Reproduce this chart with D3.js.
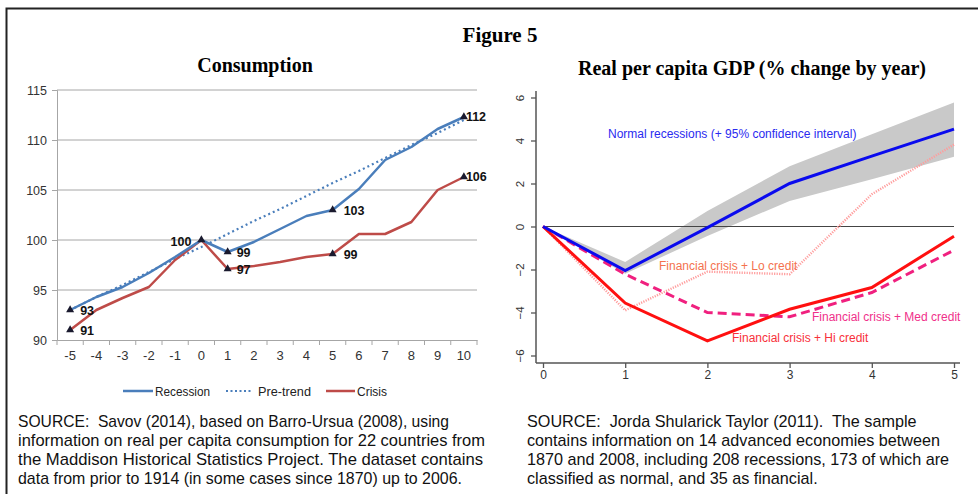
<!DOCTYPE html>
<html><head><meta charset="utf-8">
<script src="https://cdn.jsdelivr.net/npm/d3@7"></script>
<style>
body{margin:0;background:#fff;}
svg{display:block;}
text{white-space:pre;}
</style></head>
<body>
<svg id="c" width="978" height="494"></svg>
<script>
// ---------- DATA ----------
const figureTitle = "Figure 5";
const leftTitle = "Consumption";
const rightTitle = "Real per capita GDP (% change by year)";

const years = [-5,-4,-3,-2,-1,0,1,2,3,4,5,6,7,8,9,10];
const recession = [93,94.3,95.3,96.7,98.3,100,98.8,99.8,101.1,102.4,103,105.1,108,109.3,111.1,112.3];
const preTrend  = [93,94.3,95.5,96.8,98.1,99.3,100.6,101.9,103.1,104.4,105.7,106.9,108.2,109.5,110.7,112];
const crisis    = [91,93.0,94.2,95.3,98.0,100,97.1,97.4,97.8,98.3,98.6,100.6,100.6,101.8,105.0,106.3];
const leftYTicks = [90,95,100,105,110,115];
const legendNames = ["Recession","Pre-trend","Crisis"];
// labelled points: [series, year index, label]
const pointLabels = [
  ["recession",0,"93"],["crisis",0,"91"],["recession",5,"100"],
  ["recession",6,"99"],["crisis",6,"97"],["recession",10,"103"],
  ["crisis",10,"99"],["recession",15,"112"],["crisis",15,"106"]
];

const horizon = [0,1,2,3,4,5];
const normalRec = [0,-2.05,-0.05,2.0,3.27,4.53];
const ciUpper   = [0,-1.65,0.72,2.8,4.29,5.77];
const ciLower   = [0,-2.2,-0.44,1.19,2.2,3.24];
const loCredit  = [0,-3.9,-2.1,-2.22,1.5,3.81];
const medCredit = [0,-2.22,-4.0,-4.2,-3.07,-1.1];
const hiCredit  = [0,-3.56,-5.32,-3.85,-2.84,-0.45];
const rightYTicks = [-6,-4,-2,0,2,4,6];
const rightXTicks = [0,1,2,3,4,5];
const annNormal = "Normal recessions (+ 95% confidence interval)";
const annLo = "Financial crisis + Lo credit";
const annMed = "Financial crisis + Med credit";
const annHi = "Financial crisis + Hi credit";

const sourceLeft = [
 "SOURCE:  Savov (2014), based on Barro-Ursua (2008), using",
 "information on real per capita consumption for 22 countries from",
 "the Maddison Historical Statistics Project. The dataset contains",
 "data from prior to 1914 (in some cases since 1870) up to 2006."
];
const sourceRight = [
 "SOURCE:  Jorda Shularick Taylor (2011).  The sample",
 "contains information on 14 advanced economies between",
 "1870 and 2008, including 208 recessions, 173 of which are",
 "classified as normal, and 35 as financial."
];

// ---------- DRAW ----------
const svg = d3.select("#c");
const serif = "'Liberation Serif','Times New Roman',serif";
const sans = "'Liberation Sans',Arial,Helvetica,sans-serif";
const narrow = "'Liberation Sans Narrow','Arial Narrow','Liberation Sans',sans-serif";

// frame
svg.append("rect").attr("x",6.5).attr("y",8.5).attr("width",1100).attr("height",600)
  .attr("fill","none").attr("stroke","#222").attr("stroke-width",2);

svg.append("text").attr("x",500).attr("y",42).attr("text-anchor","middle")
  .attr("font-family",serif).attr("font-weight","bold").attr("font-size",21).text(figureTitle);

// ===== LEFT CHART =====
const L = svg.append("g");
L.append("text").attr("x",255).attr("y",72).attr("text-anchor","middle")
  .attr("font-family",serif).attr("font-weight","bold").attr("font-size",20).text(leftTitle);

const xL = d3.scaleBand().domain(years).range([57,477]);
const yL = d3.scaleLinear().domain([90,115]).range([340,90]);
const cx = i => xL(years[i]) + xL.bandwidth()/2;

// gridlines
L.append("g").selectAll("line").data(leftYTicks.filter(t=>t>90)).join("line")
  .attr("x1",57).attr("x2",477).attr("y1",d=>yL(d)).attr("y2",d=>yL(d))
  .attr("stroke","#a6a6a6").attr("stroke-width",1);

// y axis
const yAxL = L.append("g").attr("transform","translate(57,0)")
  .call(d3.axisLeft(yL).tickValues(leftYTicks).tickSize(5).tickPadding(5));
yAxL.select(".domain").attr("stroke","#a6a6a6");
yAxL.selectAll(".tick line").attr("stroke","#a6a6a6");
yAxL.selectAll("text").attr("font-family",sans).attr("font-size",12.5).attr("fill","#333");

// x axis
const xAxL = L.append("g").attr("transform","translate(0,340)")
  .call(d3.axisBottom(xL).tickSize(0).tickPadding(11));
xAxL.select(".domain").attr("stroke","#a6a6a6");
xAxL.selectAll("text").attr("font-family",narrow).attr("font-size",13).attr("fill","#333");
// boundary tick marks
L.append("g").selectAll("line").data(d3.range(years.length+1)).join("line")
  .attr("x1",i=>57+i*xL.step()).attr("x2",i=>57+i*xL.step())
  .attr("y1",340).attr("y2",345).attr("stroke","#a6a6a6");

const lineL = d3.line().x((d,i)=>cx(i)).y(d=>yL(d));
const blue = "#4a7ebb", red = "#be4b48";
L.append("path").datum(preTrend).attr("d",lineL).attr("fill","none")
  .attr("stroke",blue).attr("stroke-width",2.2).attr("stroke-dasharray","2,3");
L.append("path").datum(crisis).attr("d",lineL).attr("fill","none")
  .attr("stroke",red).attr("stroke-width",2.5).attr("stroke-linejoin","round");
L.append("path").datum(recession).attr("d",lineL).attr("fill","none")
  .attr("stroke",blue).attr("stroke-width",2.5).attr("stroke-linejoin","round");

const seriesMap = {recession, crisis};
const tri = d3.symbol().type(d3.symbolTriangle).size(28);
const labelOffsets = {"0":[10,1], "5":[-10,2], "6":[9,1], "10":[11,1], "15":[2,0]};
pointLabels.forEach(([s,i,lab])=>{
  const px = cx(i), py = yL(seriesMap[s][i]);
  L.append("path").attr("d",tri).attr("transform",`translate(${px},${py})`).attr("fill","#1a1a2e");
  const off = labelOffsets[String(i)];
  L.append("text").attr("x",px+off[0]).attr("y",py+off[1]).attr("dy","0.35em")
    .attr("text-anchor", off[0]<0 ? "end":"start")
    .attr("font-family",sans).attr("font-weight","bold").attr("font-size",12.5).attr("fill","#111").text(lab);
});

// legend
const legItems = [
  {name:legendNames[0], x1:123, x2:153, tx:155, w:55, color:blue, dash:null},
  {name:legendNames[1], x1:226, x2:253, tx:258, w:53, color:blue, dash:"2,2.5"},
  {name:legendNames[2], x1:326, x2:355, tx:357, w:30, color:red, dash:null}
];
const lg = L.append("g");
legItems.forEach(d=>{
  lg.append("line").attr("x1",d.x1).attr("x2",d.x2).attr("y1",391).attr("y2",391)
    .attr("stroke",d.color).attr("stroke-width",d.dash?2:2.5).attr("stroke-dasharray",d.dash);
  lg.append("text").attr("x",d.tx).attr("y",391).attr("dy","0.35em")
    .attr("font-family",narrow).attr("font-size",13.5).attr("fill","#222")
    .attr("textLength",d.w).attr("lengthAdjust","spacingAndGlyphs").text(d.name);
});

// source left (narrow face emulated by fitting each line to its width)
const leftLineW = [431,467,465,444];
svg.append("g").selectAll("text").data(sourceLeft).join("text")
  .attr("x",18).attr("y",(d,i)=>427+i*19)
  .attr("textLength",(d,i)=>leftLineW[i]).attr("lengthAdjust","spacingAndGlyphs")
  .attr("font-family",narrow).attr("font-size",17).attr("fill","#111").text(d=>d);

// ===== RIGHT CHART =====
const R = svg.append("g");
R.append("text").attr("x",752).attr("y",75).attr("text-anchor","middle")
  .attr("font-family",serif).attr("font-weight","bold").attr("font-size",20).text(rightTitle);

const xR = d3.scaleLinear().domain([0,5]).range([543,954]);
const yR = d3.scaleLinear().domain([-6,6]).range([355.5,97.5]);
const axisCol = "#555";

// CI band
const area = d3.area().x((d,i)=>xR(horizon[i])).y0((d,i)=>yR(ciLower[i])).y1(d=>yR(d));
R.append("path").datum(ciUpper).attr("d",area).attr("fill","#c9c9c9");

// zero line
R.append("line").attr("x1",xR(0)).attr("x2",xR(5)).attr("y1",yR(0)).attr("y2",yR(0))
  .attr("stroke","#444").attr("stroke-width",1.2);

// axes
const yAxR = R.append("g").attr("transform","translate(536,0)")
  .call(d3.axisLeft(yR).tickValues(rightYTicks).tickSize(5).tickPadding(0));
yAxR.select(".domain").remove();
yAxR.selectAll(".tick line").attr("stroke",axisCol).attr("stroke-width",1.3);
yAxR.selectAll("text").attr("font-family",sans).attr("font-size",11.5).attr("fill","#333")
  .attr("text-anchor","middle").attr("dy",0).attr("x",0)
  .attr("transform","translate(-12,0) rotate(-90)");
R.append("line").attr("x1",536).attr("x2",536).attr("y1",91).attr("y2",363)
  .attr("stroke",axisCol).attr("stroke-width",1.5);

const xAxR = R.append("g").attr("transform","translate(0,363)")
  .call(d3.axisBottom(xR).tickValues(rightXTicks).tickFormat(d3.format("d")).tickSize(5).tickPadding(2));
xAxR.select(".domain").remove();
xAxR.selectAll(".tick line").attr("stroke",axisCol).attr("stroke-width",1.3);
xAxR.selectAll("text").attr("font-family",sans).attr("font-size",12).attr("fill","#333");
R.append("line").attr("x1",536).attr("x2",960).attr("y1",363).attr("y2",363)
  .attr("stroke",axisCol).attr("stroke-width",1.5);

const lineR = d3.line().x((d,i)=>xR(horizon[i])).y(d=>yR(d));
R.append("path").datum(loCredit).attr("d",lineR).attr("fill","none")
  .attr("stroke","#ff9c9c").attr("stroke-width",2.4).attr("stroke-dasharray","1.2,1.3");
R.append("path").datum(medCredit).attr("d",lineR).attr("fill","none")
  .attr("stroke","#f0207f").attr("stroke-width",3).attr("stroke-dasharray","9,5");
R.append("path").datum(hiCredit).attr("d",lineR).attr("fill","none")
  .attr("stroke","#ff1010").attr("stroke-width",3);
R.append("path").datum(normalRec).attr("d",lineR).attr("fill","none")
  .attr("stroke","#0a0aee").attr("stroke-width",3);

const ann = [
  {t:annNormal, x:608, y:138, c:"#2a2af0"},
  {t:annLo, x:659, y:270, c:"#f4724e"},
  {t:annMed, x:812, y:321, c:"#f0308a"},
  {t:annHi, x:732, y:342, c:"#f8303a"}
];
R.selectAll(".ann").data(ann).join("text").attr("class","ann")
  .attr("x",d=>d.x).attr("y",d=>d.y).attr("fill",d=>d.c)
  .attr("font-family",sans).attr("font-size",12).text(d=>d.t);

// source right
svg.append("g").selectAll("text").data(sourceRight).join("text")
  .attr("x",527).attr("y",(d,i)=>427+i*19)
  .attr("font-family",sans).attr("font-size",16.2).attr("fill","#111").text(d=>d);
</script>
</body></html>
